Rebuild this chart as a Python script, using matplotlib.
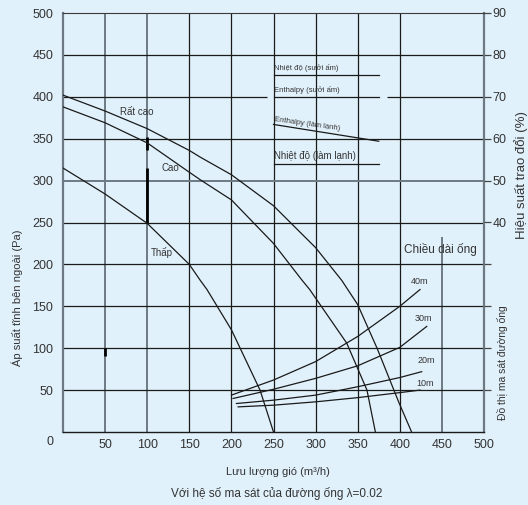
import matplotlib.pyplot as plt

plt.rcParams['font.family'] = ['Liberation Sans', 'DejaVu Sans']

BG = '#e1f1fb'
TXT = '#333333'
GRAY = '#6d7a84'
INK = '#1a1a1a'

# fan curves: air flow (m3/h) -> external static pressure (Pa)
flow_very_high = [0, 50, 100, 150, 163, 200, 250, 300, 331, 350, 373, 399, 414]
pa_very_high = [402, 383, 362, 336, 328, 307, 270, 220, 181, 152, 100, 35, 0]
flow_high = [0, 50, 100, 150, 163, 200, 250, 284, 293, 337, 361, 371]
pa_high = [388, 369, 345, 310, 301, 277, 225, 181, 170, 106, 50, 0]
flow_low = [0, 50, 100, 150, 163, 171, 200, 234, 250]
pa_low = [315, 284, 249, 200, 181, 170, 122, 50, 0]

# duct friction curves (pipe length)
pipe_labels = ['40m', '30m', '20m', '10m']
pipe_flow = [[200, 250, 300, 350, 400, 424],
             [202, 250, 300, 350, 400, 432],
             [206, 250, 300, 350, 400, 426],
             [208, 250, 300, 350, 400, 424]]
pipe_pa = [[44, 62, 84, 114, 150, 170],
           [40, 51, 64, 79, 101, 126],
           [34, 38, 44, 54, 65, 72],
           [30, 32, 36, 41, 47, 50]]

# exchange efficiency (%), right axis
eff_flow = [250, 375]
eff_temp_heat = [75.3, 75.3]
eff_enth_heat = [70, 70]
eff_enth_cool = [63.4, 59.4]
eff_temp_cool = [54, 54]

x_ticks = [50, 100, 150, 200, 250, 300, 350, 400, 450, 500]
y_ticks = [50, 100, 150, 200, 250, 300, 350, 400, 450, 500]
eff_ticks = [0, 10, 20, 30, 40, 50, 60, 70, 80, 90]
eff_ticklabels = ['', '', '', '', '40', '50', '60', '70', '80', '90']

fig = plt.figure(figsize=(5.28, 5.05), dpi=100, facecolor=BG)
ax = fig.add_axes([63 / 528, 1 - 432 / 505, 421 / 528, 419 / 505])
ax.set_facecolor(BG)
ax.set_xlim(0, 500)
ax.set_ylim(0, 500)

# grid
for x in [150, 200, 250, 300, 350, 400]:
    ax.vlines(x, 0, 500, color=INK, lw=0.9, zorder=1)
for x in [50, 100]:
    ax.vlines(x, 0, 500, color=GRAY, lw=1.4, zorder=1)
ax.vlines(450, 0, 233, color=GRAY, lw=1.4, zorder=1)
for y in [50, 100, 150, 200, 250, 350, 450]:
    ax.hlines(y, 0, 500, color=INK, lw=0.9, zorder=1)
ax.hlines(300, 0, 500, color=GRAY, lw=1.4, zorder=1)
ax.hlines(400, 0, 242, color=INK, lw=0.9, zorder=1)
ax.hlines(400, 385, 500, color=INK, lw=0.9, zorder=1)
# heavy marks on the 50 / 100 lines
ax.vlines(100, 249, 315, color='black', lw=2, zorder=1)
ax.vlines(100, 336, 352, color='black', lw=2, zorder=1)
ax.vlines(50, 91, 100, color='black', lw=2, zorder=1)

for side in ['left', 'right']:
    ax.spines[side].set_color(GRAY)
    ax.spines[side].set_linewidth(1.6)
ax.spines['top'].set_color('#3a3a3a')
ax.spines['bottom'].set_color(INK)
ax.spines['bottom'].set_linewidth(1.0)

# fan curves
for f, p in [(flow_very_high, pa_very_high), (flow_high, pa_high), (flow_low, pa_low)]:
    ax.plot(f, p, color=INK, lw=0.9, zorder=3)
ax.text(87, 382, 'Rất cao', fontsize=7, color=TXT, ha='center', va='center')
ax.text(127, 315, 'Cao', fontsize=7, color=TXT, ha='center', va='center')
ax.text(117, 214, 'Thấp', fontsize=7, color=TXT, ha='center', va='center')

# duct curves
pipe_label_pos = [(424, 180), (428, 136), (432, 85), (430, 58)]
for f, p, lab, pos in zip(pipe_flow, pipe_pa, pipe_labels, pipe_label_pos):
    ax.plot(f, p, color=INK, lw=0.9, zorder=3)
    ax.text(pos[0], pos[1], lab, fontsize=6.5, color=TXT, ha='center', va='center')
ax.text(448, 218, 'Chiều dài ống', fontsize=8.5, color=TXT, ha='center', va='center')

ax.set_xticks(x_ticks)
ax.set_yticks(y_ticks)
ax.tick_params(axis='both', length=0, labelsize=9, labelcolor=TXT)
ax.tick_params(axis='x', pad=5)
ax.tick_params(axis='y', pad=7)

# efficiency axis
ax2 = ax.twinx()
ax2.set_ylim(-10, 90)
ax2.set_yticks(eff_ticks)
ax2.set_yticklabels(eff_ticklabels)
ax2.tick_params(axis='y', length=5, width=0.9, color='#444444', pad=1,
                labelsize=9, labelcolor=TXT)
for s in ax2.spines.values():
    s.set_visible(False)

ax2.plot(eff_flow, eff_temp_heat, color=INK, lw=0.9)
ax2.plot(eff_flow, eff_enth_heat, color=INK, lw=0.9)
ax2.plot(eff_flow, eff_enth_cool, color=INK, lw=0.9)
ax2.plot(eff_flow, eff_temp_cool, color=INK, lw=0.9)
ax2.text(251, 75.9, 'Nhiệt độ (sưởi ấm)', fontsize=5.5, color=TXT, ha='left', va='bottom')
ax2.text(251, 70.6, 'Enthalpy (sưởi ấm)', fontsize=5.5, color=TXT, ha='left', va='bottom')
ax2.text(251, 63.8, 'Enthalpy (làm lạnh)', fontsize=5.5, color=TXT, ha='left', va='bottom',
         rotation=-8, rotation_mode='anchor')
ax2.text(251, 54.7, 'Nhiệt độ (làm lạnh)', fontsize=7, color=TXT, ha='left', va='bottom')

# axis titles
fig.text(50 / 528, 1 - 442 / 505, '0', fontsize=9, color=TXT, ha='center', va='center')
fig.text(17 / 528, 1 - 298 / 505, 'Áp suất tĩnh bên ngoài (Pa)', fontsize=8, color=TXT,
         rotation=90, ha='center', va='center')
fig.text(521 / 528, 1 - 175 / 505, 'Hiệu suất trao đổi (%)', fontsize=9.5, color=TXT,
         rotation=90, ha='center', va='center')
fig.text(503 / 528, 1 - 363 / 505, 'Đồ thị ma sát đường ống', fontsize=7.5, color=TXT,
         rotation=90, ha='center', va='center')
fig.text(278 / 528, 1 - 472 / 505, 'Lưu lượng gió (m³/h)', fontsize=8, color=TXT,
         ha='center', va='center')
fig.text(277 / 528, 1 - 493 / 505, 'Với hệ số ma sát của đường ống λ=0.02', fontsize=8.5,
         color=TXT, ha='center', va='center')

fig.savefig('out.png', dpi=100, facecolor=BG)
